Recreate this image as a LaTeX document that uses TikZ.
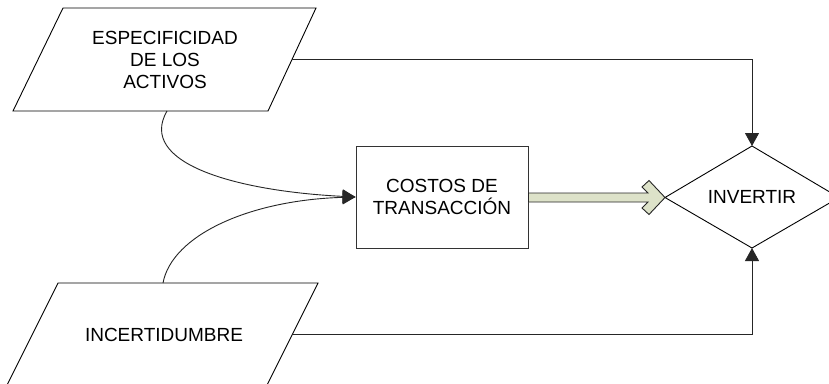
\documentclass[tikz,border=0pt]{standalone}
\usepackage{fontspec}
\setmainfont{Liberation Sans}
\usetikzlibrary{arrows.meta}
\definecolor{arrowfill}{RGB}{221,226,201}
\begin{document}
\begin{tikzpicture}[x=1pt,y=-1pt,
  shapeline/.style={draw=black,line width=0.9pt,line join=miter},
  lbl/.style={font=\fontsize{19}{22}\selectfont,align=center,text=black,inner sep=0pt},
  conn/.style={draw=black!85,line width=0.9pt,-{Triangle[length=13pt,width=14pt]}}
]
\useasboundingbox (0,0) rectangle (829,383);
\clip (0,0) rectangle (829,383);
\fill[white] (0,0) rectangle (829,383);
% top parallelogram
\coordinate (p1tl) at (63,8);
\coordinate (p1tr) at (316,8);
\coordinate (p1br) at (268,111);
\coordinate (p1bl) at (13,111);
\draw[shapeline] (p1tl) -- (p1tr) -- (p1br) -- (p1bl) -- cycle;
\node[lbl] (espec) at (165,60) {ESPECIFICIDAD\\DE LOS\\ACTIVOS};
\coordinate (p1r) at (292,59.5);
\coordinate (p1b) at (167,111);
% bottom parallelogram
\coordinate (p2tl) at (58,283);
\coordinate (p2tr) at (318,283);
\coordinate (p2br) at (266.5,386);
\coordinate (p2bl) at (6.5,386);
\draw[shapeline] (p2tl) -- (p2tr) -- (p2br) -- (p2bl) -- cycle;
\node[lbl] (incert) at (164,335) {INCERTIDUMBRE};
\coordinate (p2r) at (292.5,334);
\coordinate (p2t) at (163,283);
% box
\node[lbl,draw=black!80,line width=0.9pt,minimum width=172pt,minimum height=102pt] (costos) at (442,197) {COSTOS DE\\TRANSACCIÓN};
% diamond
\coordinate (dtop) at (752,146);
\coordinate (dleft) at (665,197.5);
\coordinate (dbot) at (752,248);
\coordinate (dright) at (839,197.5);
\draw[shapeline] (dtop) -- (dright) -- (dbot) -- (dleft) -- cycle;
\node[lbl] (invertir) at (752,197) {INVERTIR};
% connectors
\draw[conn] (p1r) -| (dtop);
\draw[conn] (p2r) -| (dbot);
\draw[conn] (p1b) .. controls (137,163) and (235,191) .. (costos.west);
\draw[conn] (p2t) .. controls (172,235) and (250,200) .. (costos.west);
% thick arrow
\draw[fill=arrowfill,draw=black!85,line width=0.9pt,line join=miter]
  (costos.east |- 0,193) -- (648,193) -- (642,187) -- (649,180.5) -- (dleft)
  -- (649,214.5) -- (642,208) -- (648,202) -- (costos.east |- 0,202) -- cycle;
\end{tikzpicture}
\end{document}
